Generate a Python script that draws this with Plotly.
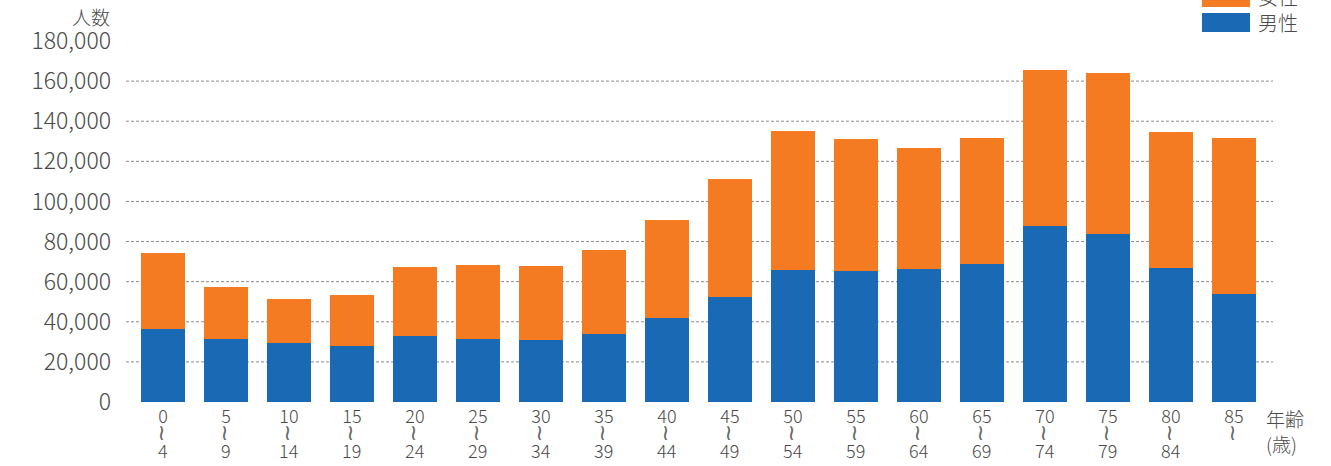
import plotly.graph_objects as go

age_start = ["0", "5", "10", "15", "20", "25", "30", "35", "40", "45", "50", "55", "60", "65", "70", "75", "80", "85"]
age_end = ["4", "9", "14", "19", "24", "29", "34", "39", "44", "49", "54", "59", "64", "69", "74", "79", "84", ""]
male = [36600, 31600, 29600, 28100, 33100, 31600, 31100, 34100, 42000, 52500, 65900, 65400, 66400, 68900, 87800, 83800, 66900, 54000]
female = [37800, 25900, 21900, 25400, 34300, 36800, 36800, 41800, 48800, 58700, 69200, 65700, 60200, 62700, 77600, 80100, 67700, 77600]
series_names = ["男性", "女性"]
y_ticks = [0, 20000, 40000, 60000, 80000, 100000, 120000, 140000, 160000, 180000]
grid_values = [20000, 40000, 60000, 80000, 100000, 120000, 140000, 160000]

BLUE = "#1a69b5"
ORANGE = "#f47b22"
FONT = "Noto Sans CJK JP"
TXT = "#4a4a4a"

W, H = 1331, 466
ML, MR, MT, MB = 126, 58, 41, 64
PH = H - MT - MB
PW = W - ML - MR

def py(p):
    return (H - MB - p) / PH

def px(p):
    return (p - ML) / PW

xs = list(range(len(age_start)))

fig = go.Figure()
fig.add_trace(go.Bar(x=xs, y=male, name=series_names[0], marker=dict(color=BLUE, line=dict(width=0)), showlegend=False))
fig.add_trace(go.Bar(x=xs, y=female, name=series_names[1], marker=dict(color=ORANGE, line=dict(width=0)), showlegend=False))

shapes = []
for g in grid_values:
    shapes.append(dict(type="line", xref="paper", yref="y", x0=0, x1=1, y0=g, y1=g,
                       line=dict(color="#8a8a8a", width=1, dash="3px,2px"), layer="below"))

# legend (manual, wide swatches)
shapes.append(dict(type="rect", xref="paper", yref="paper", x0=px(1202), x1=px(1250), y0=py(32), y1=py(13),
                   fillcolor=BLUE, line=dict(width=0)))
shapes.append(dict(type="rect", xref="paper", yref="paper", x0=px(1202), x1=px(1250), y0=py(7), y1=py(-12),
                   fillcolor=ORANGE, line=dict(width=0)))

annotations = []
annotations.append(dict(text=series_names[0], xref="paper", yref="paper", x=px(1256), y=py(22),
                        xanchor="left", yanchor="middle", showarrow=False,
                        font=dict(family=FONT, size=20, color=TXT, weight=300)))
annotations.append(dict(text=series_names[1], xref="paper", yref="paper", x=px(1256), y=py(-4),
                        xanchor="left", yanchor="middle", showarrow=False,
                        font=dict(family=FONT, size=20, color=TXT, weight=300)))
annotations.append(dict(text="人数", xref="paper", yref="paper", x=px(112), y=py(17),
                        xanchor="right", yanchor="middle", showarrow=False,
                        font=dict(family=FONT, size=19, color=TXT, weight=300)))
annotations.append(dict(text="年齢<br>(歳)", xref="paper", yref="paper", x=px(1264), y=py(431),
                        xanchor="left", yanchor="middle", align="left", showarrow=False,
                        font=dict(family=FONT, size=19, color=TXT, weight=300)))
for i, e in enumerate(age_end):
    annotations.append(dict(text="~", xref="x", yref="paper", x=xs[i], y=py(433), textangle=90,
                            xanchor="center", yanchor="middle", showarrow=False,
                            font=dict(family="DejaVu Sans", size=22, color="#666666")))
    if e:
        annotations.append(dict(text=e, xref="x", yref="paper", x=xs[i], y=py(450),
                                xanchor="center", yanchor="middle", showarrow=False,
                                font=dict(family=FONT, size=18, color=TXT, weight=300)))

fig.update_layout(
    width=W, height=H,
    margin=dict(l=ML, r=MR, t=MT, b=MB, pad=0),
    barmode="stack", bargap=0.29,
    plot_bgcolor="white", paper_bgcolor="white",
    shapes=shapes, annotations=annotations,
    xaxis=dict(range=[-0.587, 17.62], tickmode="array", tickvals=xs, ticktext=age_start,
               showgrid=False, zeroline=False, showline=False, ticks="",
               tickfont=dict(family=FONT, size=18, color=TXT, weight=300), ticklabelstandoff=2),
    yaxis=dict(range=[0, 180000], tickmode="array", tickvals=y_ticks, tickformat=",d",
               showgrid=False, zeroline=False, showline=False, ticks="",
               tickfont=dict(family=FONT, size=23, color=TXT, weight=300), ticklabelstandoff=14),
)

fig.write_html("out.html")
